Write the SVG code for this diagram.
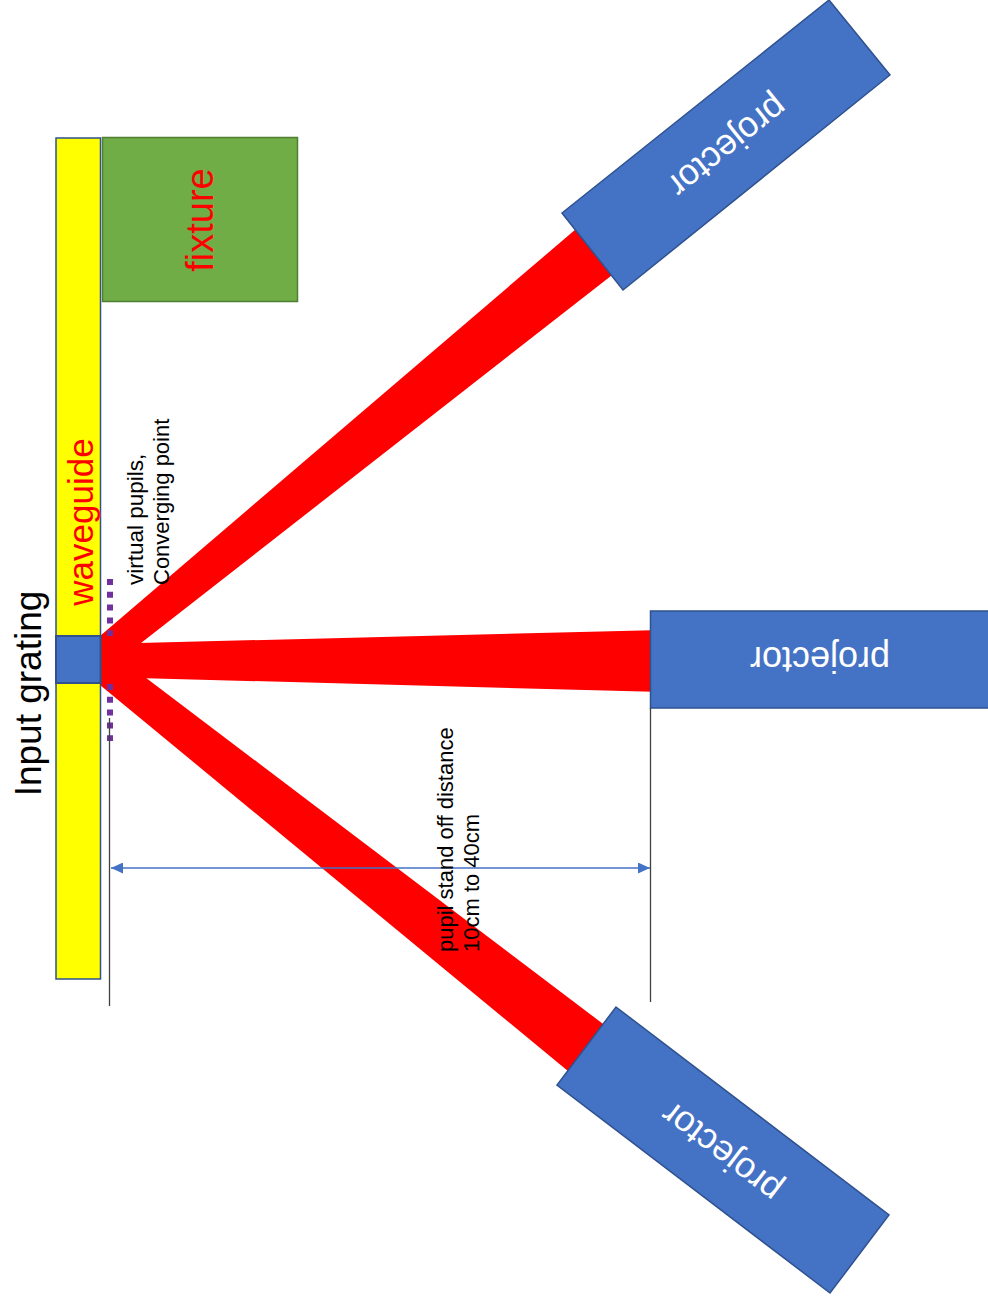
<svg xmlns="http://www.w3.org/2000/svg" width="988" height="1302" viewBox="0 0 988 1302">
  <style>
    .lbl { font-family: "Liberation Sans", Arial, sans-serif; }
    .red-lbl { fill: #FF0000; }
    .dark { fill: #000000; }
    .proj { fill: #4472C4; stroke: #2F528F; stroke-width: 1.5; }
    .proj-txt { fill: #FFFFFF; font-size: 36px; text-anchor: middle; }
    .beam { fill: #FF0000; stroke: none; }
    .pupil { stroke: #7030A0; stroke-width: 6; fill: none; }
    .ext { stroke: #404040; stroke-width: 1.3; fill: none; }
    .dim { stroke: #4472C4; stroke-width: 1.3; fill: none; }
  </style>
  <defs>
    <marker id="dimHead" viewBox="0 0 12 11" refX="12" refY="5.5" markerWidth="12" markerHeight="11" markerUnits="userSpaceOnUse" orient="auto-start-reverse">
      <path d="M0,0 L12,5.5 L0,11 Z" fill="#4472C4"/>
    </marker>
  </defs>

  <rect x="0" y="0" width="988" height="1302" fill="#FFFFFF"/>

  <!-- light beams from each projector to the converging point -->
  <g id="connectors">
    <polygon class="beam" points="100,636 590,217 625,265 100,675"/>
    <polygon class="beam" points="100,644 662,630 662,692 100,677"/>
    <polygon class="beam" points="100,643 615,1033 580,1081 100,685"/>
  </g>

  <!-- waveguide slab -->
  <g id="waveguide">
    <rect x="56" y="138" width="44.5" height="841" fill="#FFFF00" stroke="#2F528F" stroke-width="1.5"/>
    <text class="lbl red-lbl" font-size="35" text-anchor="middle" transform="translate(93,522) rotate(-90)">waveguide</text>
  </g>

  <!-- input grating patch on the waveguide -->
  <g id="input-grating">
    <rect x="56" y="636" width="44.5" height="47" fill="#4472C4" stroke="#2F528F" stroke-width="2"/>
    <text class="lbl dark" font-size="37" text-anchor="middle" transform="translate(40.5,693.5) rotate(-90)">Input grating</text>
  </g>

  <!-- fixture -->
  <g id="fixture">
    <rect x="102.5" y="137.5" width="195" height="164" fill="#70AD47" stroke="#507E32" stroke-width="1.5"/>
    <text class="lbl red-lbl" font-size="38" text-anchor="middle" transform="translate(213,220) rotate(-90)">fixture</text>
  </g>

  <!-- virtual pupils -->
  <g id="virtual-pupils">
    <line class="pupil" x1="110" y1="579" x2="110" y2="636" stroke-dasharray="6 6.8"/>
    <line class="pupil" x1="110" y1="684" x2="110" y2="741" stroke-dasharray="6 6.8"/>
    <text class="lbl dark" font-size="22.5" transform="translate(143,585) rotate(-90)">virtual pupils,</text>
    <text class="lbl dark" font-size="22" transform="translate(169,585) rotate(-90)">Converging point</text>
  </g>

  <!-- projectors -->
  <g id="projector-top">
    <polygon class="proj" points="562,213 829,0 890,75 623,290"/>
    <text class="lbl proj-txt" transform="translate(726,144) rotate(141.4)" y="9">projector</text>
  </g>
  <g id="projector-middle">
    <rect class="proj" x="650.5" y="611" width="360" height="97"/>
    <text class="lbl proj-txt" transform="translate(820,656) rotate(180)" y="9">projector</text>
  </g>
  <g id="projector-bottom">
    <polygon class="proj" points="616,1007 889,1215 830,1293 557,1085"/>
    <text class="lbl proj-txt" transform="translate(723,1150) rotate(217.3)" y="9">projector</text>
  </g>

  <!-- stand-off distance dimension -->
  <g id="standoff-dimension">
    <line class="ext" x1="109.5" y1="718" x2="109.5" y2="1006"/>
    <line class="ext" x1="650.5" y1="708" x2="650.5" y2="1002" stroke="#000000"/>
    <line class="dim" x1="111" y1="868" x2="650" y2="868" marker-start="url(#dimHead)" marker-end="url(#dimHead)"/>
    <text class="lbl dark" font-size="22" transform="translate(453,952) rotate(-90)">pupil stand off distance</text>
    <text class="lbl dark" font-size="22" transform="translate(479,952) rotate(-90)">10cm to 40cm</text>
  </g>
</svg>
